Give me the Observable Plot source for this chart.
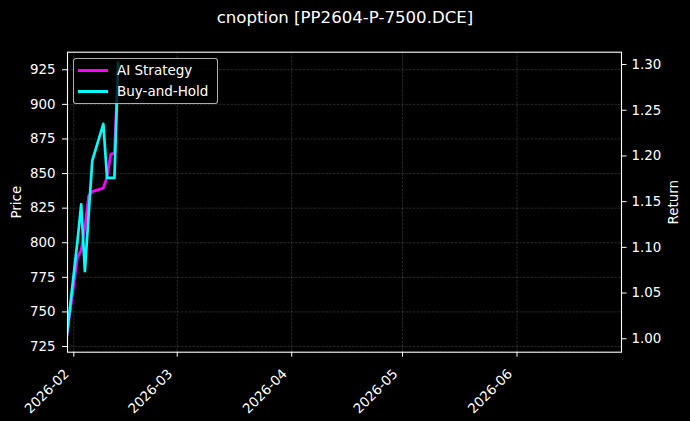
<!DOCTYPE html>
<html>
<head>
<meta charset="utf-8">
<script src="https://cdn.jsdelivr.net/npm/d3@7"></script>
<script src="https://cdn.jsdelivr.net/npm/@observablehq/plot@0.6"></script>
<style>
  html, body { margin: 0; padding: 0; background: #000; }
  #fig { position: relative; width: 690px; height: 421px; background: #000; overflow: hidden;
         font-family: "DejaVu Sans", sans-serif; color: #fff; }
  #title { height: 36px; line-height: 36px; text-align: center; font-size: 16.6px; color: #fff; white-space: nowrap; }
  #legend { position: absolute; left: 73px; top: 58px; width: 145px; height: 46px; box-sizing: border-box;
            background: rgba(0,0,0,0.8); border: 1px solid rgba(204,204,204,0.85); border-radius: 3px; }
  .item { position: absolute; left: 0; height: 20px; width: 100%; }
  .swatch { position: absolute; left: 4px; width: 30px; height: 2.8px; top: 9px; }
  .lab { position: absolute; left: 43px; top: 0; line-height: 20px; font-size: 13.5px; color: #fff; white-space: nowrap; }
</style>
</head>
<body>
<div id="fig">
  <div id="title">cnoption [PP2604-P-7500.DCE]</div>
  <div id="chart"></div>
  <div id="legend"></div>
</div>
<script>
// ---- data ----
const dates = ["2026-01-30","2026-02-02","2026-02-03","2026-02-04","2026-02-05","2026-02-06",
               "2026-02-09","2026-02-10","2026-02-11","2026-02-12","2026-02-13"];
const aiReturn = [1.000, 1.089, 1.097, 1.122, 1.156, 1.161, 1.165, 1.177, 1.202, 1.203, 1.299];
const bhReturn = [1.000, 1.107, 1.147, 1.074, 1.135, 1.195, 1.235, 1.176, 1.176, 1.176, 1.302];
const seriesNames = ["AI Strategy", "Buy-and-Hold"];
const seriesColors = ["#ff00ff", "#00ffff"];
const priceTicks = [725, 750, 775, 800, 825, 850, 875, 900, 925];
const returnTicks = [1.00, 1.05, 1.10, 1.15, 1.20, 1.25, 1.30];
const monthTicks = ["2026-02-01","2026-03-01","2026-04-01","2026-05-01","2026-06-01"];
const xDomain = ["2026-01-30T07:00:00Z", "2026-06-29T07:00:00Z"];
const returnDomain = [0.9853, 1.3135];
const priceDomain = [720.9, 937.7];

// ---- derived tables ----
const parse = d3.utcParse("%Y-%m-%d");
const rows = [];
dates.forEach((d, i) => rows.push({date: parse(d), value: aiReturn[i], series: seriesNames[0]}));
dates.forEach((d, i) => rows.push({date: parse(d), value: bhReturn[i], series: seriesNames[1]}));
const monthDates = monthTicks.map(parse);

// map price values onto the return (shared y) scale
const p2r = d3.scaleLinear().domain(priceDomain).range(returnDomain);
const priceTickR = priceTicks.map(p => p2r(p));

const gridStyle = {stroke: "#9a9a9a", strokeOpacity: 0.45, strokeWidth: 0.6, strokeDasharray: "2.6,1.2"};

const chart = Plot.plot({
  width: 690,
  height: 385,
  marginLeft: 67,
  marginRight: 69,
  marginTop: 15.7,
  marginBottom: 69.3,
  style: {background: "#000", color: "#fff", fontFamily: "DejaVu Sans, sans-serif", fontSize: "13.4px"},
  x: {type: "utc", domain: xDomain.map(d => new Date(d))},
  y: {domain: returnDomain},
  color: {domain: seriesNames, range: seriesColors},
  marks: [
    Plot.gridX(monthDates, gridStyle),
    Plot.gridY(priceTickR, gridStyle),
    Plot.line(rows, {x: "date", y: "value", z: "series", stroke: "series", strokeWidth: 2.7, clip: true}),
    Plot.frame({stroke: "#fff", strokeWidth: 1.1}),
    // tick marks only
    Plot.axisX(monthDates, {tickSize: 5, tickFormat: () => "", label: null, stroke: "#fff"}),
    // rotated tick labels only
    Plot.axisX(monthDates, {tickFormat: d3.utcFormat("%Y-%m"), tickRotate: -45, tickSize: 0, tickPadding: 19.5, dx: -7, label: null}),
    Plot.axisY(returnTicks, {anchor: "right", tickFormat: d3.format(".2f"), tickSize: 4.5, tickPadding: 5.5,
                             label: "Return", labelAnchor: "center", labelArrow: "none", labelOffset: 56.5}),
    Plot.axisY(priceTickR, {anchor: "left", tickFormat: (r) => String(priceTicks[priceTickR.indexOf(r)]),
                            tickSize: 5, tickPadding: 7, label: "Price", labelAnchor: "center", labelArrow: "none", labelOffset: 56})
  ]
});
document.getElementById("chart").appendChild(chart);

// legend
const legend = document.getElementById("legend");
seriesNames.forEach((name, i) => {
  const item = document.createElement("div");
  item.className = "item";
  item.style.top = (1 + i * 21) + "px";
  const sw = document.createElement("div");
  sw.className = "swatch";
  sw.style.background = seriesColors[i];
  const lab = document.createElement("div");
  lab.className = "lab";
  lab.textContent = name;
  item.appendChild(sw);
  item.appendChild(lab);
  legend.appendChild(item);
});
</script>
</body>
</html>
